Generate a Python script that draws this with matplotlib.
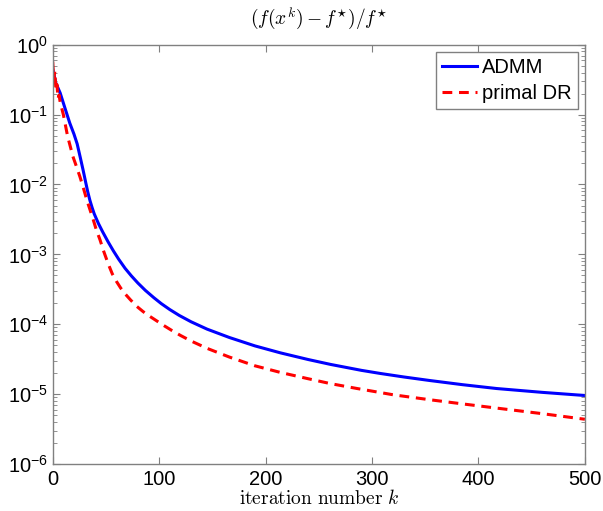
import numpy as np
import matplotlib
matplotlib.use("Agg")
import matplotlib.pyplot as plt
from matplotlib.ticker import LogLocator, NullFormatter

# values (log10 of the relative gap)
admm_k = [0, 3, 7, 12, 16, 20, 23, 26, 28.5, 31, 33, 35, 37, 39, 43, 47, 52,
          57, 62, 68, 74, 80, 87, 95, 102, 110, 119, 130, 145, 166, 190, 214,
          240, 261, 290, 308, 330, 354, 385, 417, 460, 500]
admm_log = [-0.35, -0.55, -0.69, -0.93, -1.12, -1.28, -1.42, -1.62, -1.79,
            -1.97, -2.11, -2.23, -2.33, -2.42, -2.56, -2.68, -2.82, -2.95,
            -3.07, -3.20, -3.31, -3.41, -3.515, -3.62, -3.705, -3.79, -3.875,
            -3.965, -4.07, -4.19, -4.31, -4.41, -4.505, -4.575, -4.66, -4.705,
            -4.755, -4.805, -4.865, -4.92, -4.975, -5.02]

dr_k = [0, 1, 2, 3, 4, 5, 6, 7, 10, 14, 19, 22, 25.6, 29, 32, 35, 38, 41,
        44.4, 48, 52, 56, 60, 64, 68, 73, 79, 85, 90, 97, 104, 112, 120, 130,
        145, 166, 190, 214, 240, 261, 286, 320, 354, 385, 417, 460, 500]
dr_log = [-0.24, -0.50, -0.38, -0.65, -0.57, -0.77, -0.72, -0.82, -1.00,
          -1.31, -1.60, -1.73, -1.89, -2.06, -2.22, -2.36, -2.50, -2.65,
          -2.79, -2.96, -3.13, -3.28, -3.39, -3.485, -3.565, -3.65, -3.745,
          -3.82, -3.875, -3.945, -4.015, -4.09, -4.16, -4.24, -4.345, -4.47,
          -4.595, -4.69, -4.78, -4.85, -4.92, -5.01, -5.08, -5.14, -5.20,
          -5.28, -5.36]

xticks = [0, 100, 200, 300, 400, 500]

plt.rcParams["font.family"] = ["Liberation Sans", "DejaVu Sans"]
plt.rcParams["mathtext.fontset"] = "cm"

fig = plt.figure(figsize=(6.03, 5.11), dpi=100)
ax = fig.add_axes([0.0874, 0.092, 0.8826, 0.8205])

ax.semilogy(admm_k, 10.0 ** np.array(admm_log), color="#0000ff", lw=2.2,
            label="ADMM")
ax.semilogy(dr_k, 10.0 ** np.array(dr_log), color="#ff0000", lw=2.2,
            ls=(0, (3.2, 2.2)), label="primal DR")

ax.set_xlim(0, 500)
ax.set_ylim(1e-6, 1)
ax.set_xticks(xticks)
ax.yaxis.set_major_locator(LogLocator(base=10, numticks=10))
ax.yaxis.set_minor_locator(LogLocator(base=10, subs=np.arange(2, 10), numticks=10))
ax.yaxis.set_minor_formatter(NullFormatter())

gray = "#808080"
for s in ax.spines.values():
    s.set_color(gray)
    s.set_linewidth(1.0)
ax.tick_params(which="both", direction="in", top=True, right=True,
               color=gray, labelsize=14.5, labelcolor="black")
ax.tick_params(which="major", length=5)
ax.tick_params(which="minor", length=3)
ax.tick_params(axis="x", pad=4)

ax.set_title(r"$(f(x^k)-f^{\star})/f^{\star}$", fontsize=14, pad=14)
ax.set_xlabel(r"$\mathrm{iteration\ number}\ k$", fontsize=14, labelpad=0)

leg = ax.legend(loc="upper right", fontsize=14.5, fancybox=False, framealpha=1,
                edgecolor=gray, handlelength=1.75, handletextpad=0.25,
                borderpad=0.3, labelspacing=0.35, borderaxespad=0.35)
leg.get_frame().set_linewidth(1.0)

fig.savefig("out.png", dpi=100)
